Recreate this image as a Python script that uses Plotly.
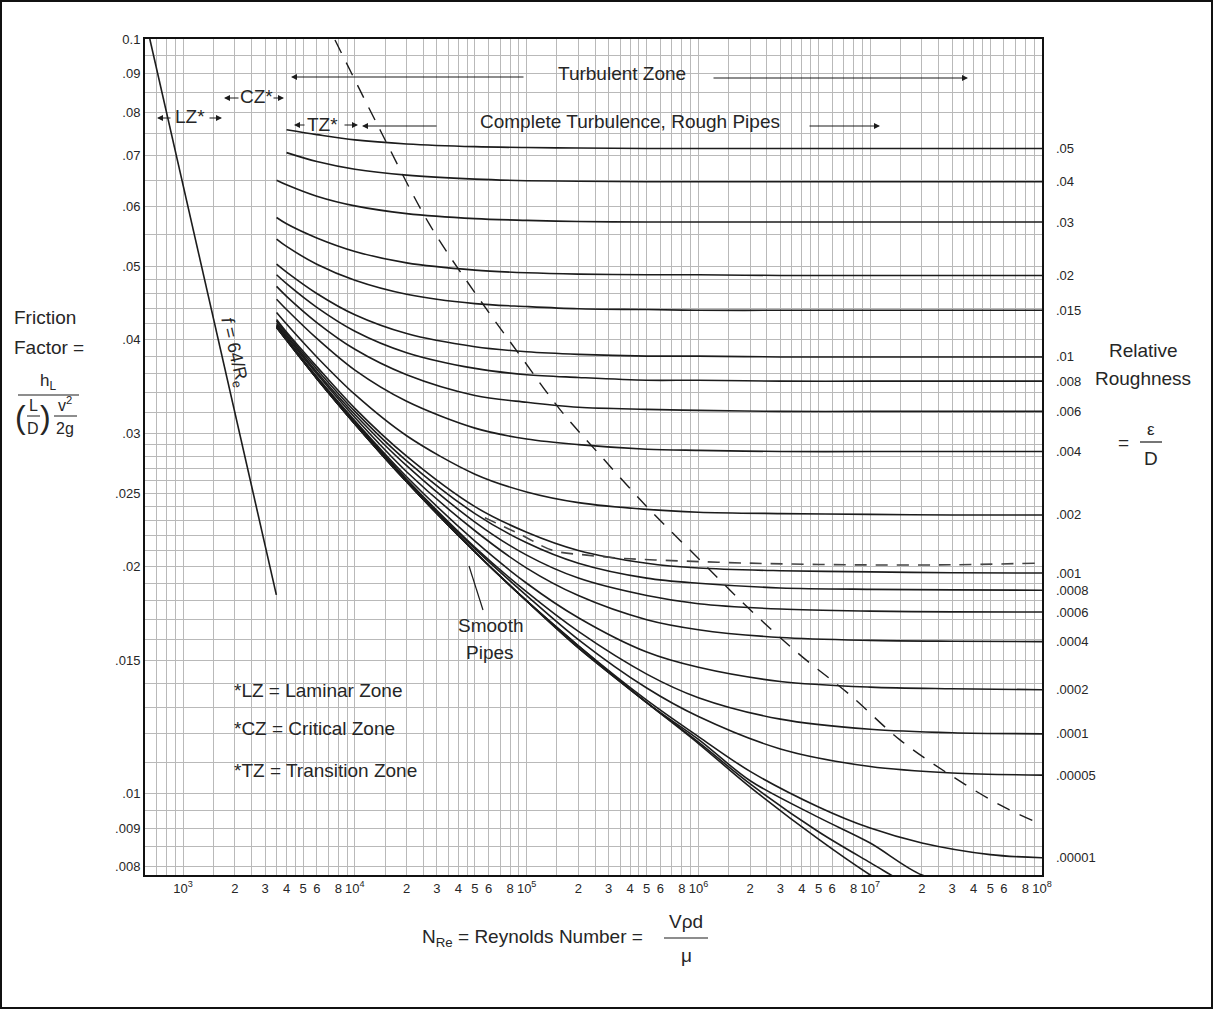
import math
import plotly.graph_objects as go

# ---------------- data ----------------
RE = [3500, 4000, 6000, 1e4, 2e4, 5e4, 1e5, 2e5, 5e5, 1e6, 3e6, 1e7, 3e7, 1e8]
RE_LOW = [3500, 4000, 6000, 1e4, 2e4, 5e4, 1e5, 2e5, 5e5, 1e6, 2e6, 5e6, 1e7, 2e7, 5e7, 1e8]

F_05 = [None, 0.0758, 0.0747, 0.0735, 0.0726, 0.0720, 0.0718, 0.0717, 0.0716, 0.0716, 0.0716, 0.0716, 0.0716, 0.0716]
F_04 = [None, 0.0707, 0.0688, 0.0672, 0.0660, 0.0652, 0.0649, 0.0648, 0.0647, 0.0647, 0.0647, 0.0647, 0.0647, 0.0647]
F_03 = [0.0650, 0.0641, 0.0619, 0.0601, 0.0587, 0.0578, 0.0575, 0.0573, 0.0572, 0.0572, 0.0572, 0.0572, 0.0572, 0.0572]
F_02 = [0.0580, 0.0569, 0.0545, 0.0523, 0.0505, 0.0494, 0.0490, 0.0488, 0.0487, 0.0487, 0.0486, 0.0486, 0.0486, 0.0486]
F_015 = [0.0543, 0.0531, 0.0503, 0.0479, 0.0459, 0.0446, 0.0442, 0.0439, 0.0438, 0.0437, 0.0437, 0.0437, 0.0437, 0.0437]
F_01 = [0.0503, 0.0491, 0.0460, 0.0431, 0.0407, 0.0391, 0.0385, 0.0382, 0.0380, 0.0380, 0.0379, 0.0379, 0.0379, 0.0379]
F_008 = [0.0487, 0.0474, 0.0441, 0.0410, 0.0384, 0.0366, 0.0359, 0.0356, 0.0353, 0.0353, 0.0352, 0.0352, 0.0352, 0.0352]
F_006 = [0.0470, 0.0456, 0.0421, 0.0388, 0.0359, 0.0337, 0.0330, 0.0325, 0.0323, 0.0322, 0.0321, 0.0321, 0.0321, 0.0321]
F_004 = [0.0452, 0.0438, 0.0401, 0.0364, 0.0331, 0.0305, 0.0295, 0.0290, 0.0286, 0.0285, 0.0284, 0.0284, 0.0284, 0.0284]
F_002 = [0.0434, 0.0419, 0.0379, 0.0338, 0.0298, 0.0265, 0.0251, 0.0243, 0.0238, 0.0236, 0.0235, 0.02344, 0.0234, 0.0234]
F_001 = [0.0425, 0.0409, 0.0368, 0.0324, 0.0280, 0.0240, 0.0222, 0.0210, 0.0202, 0.0199, 0.01974, 0.01967, 0.01962, 0.0196]
F_0008 = [0.0423, 0.0407, 0.0365, 0.0321, 0.0276, 0.0235, 0.0215, 0.0202, 0.0193, 0.0190, 0.01873, 0.01865, 0.01862, 0.0186]
F_0006 = [0.0420, 0.0405, 0.0362, 0.0318, 0.0272, 0.0229, 0.0207, 0.0193, 0.0183, 0.01785, 0.01756, 0.01745, 0.01741, 0.0174]
F_0004 = [0.0418, 0.0403, 0.0360, 0.0315, 0.0267, 0.0223, 0.0199, 0.0183, 0.0170, 0.01649, 0.0161, 0.01596, 0.01592, 0.0159]
F_0002 = [0.0417, 0.0401, 0.0357, 0.0312, 0.0263, 0.0216, 0.0190, 0.0171, 0.0154, 0.0147, 0.01408, 0.01384, 0.01377, 0.01373]
F_0001 = [0.0416, 0.0400, 0.0356, 0.0311, 0.0261, 0.0212, 0.0185, 0.0164, 0.0144, 0.0134, 0.01255, 0.01217, 0.01204, 0.0120]
F_00005 = [0.0416, 0.0400, 0.0355, 0.0310, 0.0260, 0.0211, 0.0183, 0.0160, 0.0138, 0.01265, 0.01146, 0.01086, 0.01065, 0.01058]
# lowest curves, on the denser RE_LOW grid
F_00001 = [0.0415, 0.0399, 0.0355, 0.0309, 0.0259, 0.0209, 0.0180, 0.0157, 0.0133, 0.0119, 0.0107, 0.0096, 0.0090, 0.0086, 0.0083, 0.00822]
F_000005 = [0.0415, 0.0399, 0.0355, 0.0309, 0.0259, 0.0209, 0.0180, 0.0157, 0.0132, 0.0118, 0.0104, 0.0093, 0.0086, 0.0078, 0.0074, 0.0072]
F_000001 = [0.0415, 0.0399, 0.0355, 0.0309, 0.0259, 0.0209, 0.0180, 0.0156, 0.0132, 0.0117, 0.0103, 0.0089, 0.0081, 0.0074, 0.0068, 0.0064]
F_SMOOTH = [0.0415, 0.0399, 0.0355, 0.0309, 0.0259, 0.0209, 0.0180, 0.0156, 0.0132, 0.01165, 0.0102, 0.0087, 0.0078, 0.0071, 0.0063, 0.0059]

ROUGH_LABELS = [".05", ".04", ".03", ".02", ".015", ".01", ".008", ".006", ".004", ".002",
                ".001", ".0008", ".0006", ".0004", ".0002", ".0001", ".00005", ".00001"]
ROUGH_SERIES = [F_05, F_04, F_03, F_02, F_015, F_01, F_008, F_006, F_004, F_002,
                F_001, F_0008, F_0006, F_0004, F_0002, F_0001, F_00005, F_00001]
LOW_SERIES = [F_000005, F_000001, F_SMOOTH]

# laminar line f = 64/Re
RE_LAM = [640, 3490]
F_LAM = [0.1, 0.01834]

# dashed boundary of complete turbulence
RE_BOUND = [7660, 1.40e4, 2.73e4, 5.35e4, 9.14e4, 1.56e5, 2.67e5, 5.21e5, 1.02e6, 2.0e6, 3.9e6, 7.6e6, 1.49e7, 2.91e7, 5.69e7, 9.1e7]
F_BOUND = [0.0997, 0.0758, 0.0567, 0.0451, 0.0381, 0.0323, 0.0281, 0.02377, 0.0204, 0.01752, 0.01527, 0.01352, 0.01178, 0.01059, 0.00966, 0.00918]

# dashed curve near .001
RE_DASH = [5.71e4, 9.38e4, 1.42e5, 2.24e5, 3.59e5, 5.58e5, 2.0e6, 7.6e6, 2.9e7, 9.1e7]
F_DASH = [0.0232, 0.0220, 0.0210, 0.0207, 0.0205, 0.0204, 0.0202, 0.0201, 0.0201, 0.0202]

# axis tick labels
X_LABEL_VALUES = [1e3, 2e3, 3e3, 4e3, 5e3, 6e3, 8e3,
                  1e4, 2e4, 3e4, 4e4, 5e4, 6e4, 8e4,
                  1e5, 2e5, 3e5, 4e5, 5e5, 6e5, 8e5,
                  1e6, 2e6, 3e6, 4e6, 5e6, 6e6, 8e6,
                  1e7, 2e7, 3e7, 4e7, 5e7, 6e7, 8e7, 1e8]
X_LABEL_TEXT = ["10<sup>3</sup>", "2", "3", "4", "5", "6", "8",
                "10<sup>4</sup>", "2", "3", "4", "5", "6", "8",
                "10<sup>5</sup>", "2", "3", "4", "5", "6", "8",
                "10<sup>6</sup>", "2", "3", "4", "5", "6", "8",
                "10<sup>7</sup>", "2", "3", "4", "5", "6", "8", "10<sup>8</sup>"]
Y_LABEL_VALUES = [0.1, 0.09, 0.08, 0.07, 0.06, 0.05, 0.04, 0.03, 0.025, 0.02, 0.015, 0.01, 0.009, 0.008]
Y_LABEL_TEXT = ["0.1", ".09", ".08", ".07", ".06", ".05", ".04", ".03", ".025", ".02", ".015", ".01", ".009", ".008"]

# ---------------- styling / layout helpers ----------------
W, H = 1214, 1010
L, R, T, B = 145, 1042, 39, 875
FONT = "Liberation Sans, Arial, sans-serif"
TS = 19          # annotation text size
TXT = "#262626"
LINE = "#1c1c1c"
GRID = "#b9b9b9"


def PX(px):
    return (px - L) / (R - L)


def PY(py):
    return (B - py) / (B - T)


# gridline positions
x_grid = [600, 700, 800, 900]
for d in [1e3, 1e4, 1e5, 1e6, 1e7]:
    for m in [1, 1.5, 2, 2.5, 3, 3.5, 4, 4.5, 5, 6, 7, 8, 9]:
        x_grid.append(m * d)
x_grid.append(1e8)
y_grid = [0.008, 0.0085, 0.009, 0.0095]
y_grid += [round(0.010 + 0.001 * i, 4) for i in range(21)]
y_grid += [round(0.032 + 0.002 * i, 4) for i in range(10)]
y_grid += [round(0.055 + 0.005 * i, 4) for i in range(10)]


def merge(grid, vals, texts):
    lab = {round(math.log10(v), 6): t for v, t in zip(vals, texts)}
    allv = sorted(set([round(math.log10(v), 6) for v in grid] + list(lab.keys())))
    return [10 ** v for v in allv], [lab.get(v, "") for v in allv]


xtv, xtt = merge(x_grid, X_LABEL_VALUES, X_LABEL_TEXT)
ytv, ytt = merge(y_grid, Y_LABEL_VALUES, Y_LABEL_TEXT)

fig = go.Figure()
curve_line = dict(color=LINE, width=1.6, shape="spline", smoothing=0.9)

for f in ROUGH_SERIES:
    xs = RE_LOW if len(f) == len(RE_LOW) else RE
    fig.add_trace(go.Scatter(x=xs, y=f, mode="lines", line=curve_line, connectgaps=False, hoverinfo="skip"))
for f in LOW_SERIES:
    fig.add_trace(go.Scatter(x=RE_LOW, y=f, mode="lines", line=curve_line, hoverinfo="skip"))
fig.add_trace(go.Scatter(x=RE_LAM, y=F_LAM, mode="lines", line=dict(color=LINE, width=1.6), hoverinfo="skip"))
fig.add_trace(go.Scatter(x=RE_BOUND, y=F_BOUND, mode="lines",
                         line=dict(color=LINE, width=1.4, dash="14px,11px", shape="spline"), hoverinfo="skip"))
fig.add_trace(go.Scatter(x=RE_DASH, y=F_DASH, mode="lines",
                         line=dict(color="#444444", width=1.6, dash="12px,9px", shape="spline"), hoverinfo="skip"))

ann = []


def txt(s, px, py, size=TS, xa="center", ya="middle", angle=0, color=TXT):
    ann.append(dict(text=s, x=PX(px), y=PY(py), xref="paper", yref="paper", showarrow=False,
                    xanchor=xa, yanchor=ya, textangle=angle,
                    font=dict(size=size, family=FONT, color=color)))


def arrow(hx, hy, tx, ty, head=2):
    ann.append(dict(text="", x=PX(hx), y=PY(hy), xref="paper", yref="paper", showarrow=True,
                    ax=tx - hx, ay=ty - hy, arrowhead=head, arrowsize=1.0, arrowwidth=1.2,
                    arrowcolor=LINE, standoff=0, startstandoff=0, font=dict(size=10)))


shapes = []


def seg(x0, y0, x1, y1, w=1.3):
    shapes.append(dict(type="line", xref="paper", yref="paper", x0=PX(x0), y0=PY(y0), x1=PX(x1), y1=PY(y1),
                       line=dict(color=LINE, width=w)))


# right-side roughness labels at curve ends
for lab, f in zip(ROUGH_LABELS, ROUGH_SERIES):
    ann.append(dict(text=lab, x=PX(1054), y=math.log10(f[-1]), xref="paper", yref="y", showarrow=False,
                    xanchor="left", yanchor="middle", font=dict(size=13, family=FONT, color=TXT)))

# zone annotations
txt("Turbulent Zone", 622, 73)
arrow(291, 77, 525, 77)
arrow(968, 78, 712, 78)
txt("Complete Turbulence, Rough Pipes", 630, 121)
arrow(362, 126, 438, 126)
arrow(880, 126, 808, 126)
txt("TZ*", 322, 124)
arrow(294, 125, 306, 125)
arrow(358, 125, 343, 125)
txt("CZ*", 256, 97)
arrow(224, 98, 240, 98)
arrow(284, 98, 272, 98)
txt("LZ*", 190, 117)
arrow(157, 118, 172, 118)
arrow(222, 118, 208, 118)

txt("<i>f</i> = 64/R<sub>e</sub>", 234, 352, size=18, angle=77)

txt("Smooth", 490, 625)
txt("Pipes", 490, 652)
seg(483, 610, 469, 566, 1.2)

txt("*LZ = Laminar Zone", 232, 690, xa="left")
txt("*CZ = Critical Zone", 232, 728, xa="left")
txt("*TZ = Transition Zone", 232, 770, xa="left")

# left axis title
txt("Friction", 12, 317, xa="left")
txt("Factor =", 12, 348, xa="left")
txt("h<sub>L</sub>", 48, 382, size=17)
seg(18, 395, 79, 395, 1.2)
txt("(", 21, 417, size=32)
txt(")", 45, 417, size=32)
txt("L", 33, 405, size=16)
seg(27, 416, 40, 416, 1.0)
txt("D", 33, 428, size=16)
txt("v<sup>2</sup>", 65, 404, size=16)
seg(54, 416, 77, 416, 1.0)
txt("2g", 65, 428, size=16)

# right title
txt("Relative", 1143, 351)
txt("Roughness", 1143, 378)
txt("=", 1123, 442)
txt("ε", 1151, 429, size=17)
seg(1140, 442, 1162, 442, 1.2)
txt("D", 1151, 458)

# bottom title
txt("N<sub>Re</sub> = Reynolds Number =", 420, 938, xa="left")
txt("Vρd", 686, 921)
seg(664, 938, 708, 938, 1.2)
txt("μ", 686, 955)

# outer border
shapes.append(dict(type="rect", xref="paper", yref="paper", x0=PX(1), y0=PY(1008), x1=PX(1212), y1=PY(1),
                   line=dict(color="#111111", width=2), fillcolor="rgba(0,0,0,0)", layer="below"))

fig.update_layout(
    width=W, height=H,
    margin=dict(l=L, r=W - R, t=T, b=H - B, pad=0),
    paper_bgcolor="white", plot_bgcolor="white",
    showlegend=False,
    annotations=ann, shapes=shapes,
    font=dict(family=FONT, color=TXT),
    xaxis=dict(type="log", range=[math.log10(600), 8.0], tickvals=xtv, ticktext=xtt, ticks="",
               showgrid=True, gridcolor=GRID, gridwidth=1, showline=True, linecolor="#111111", linewidth=2,
               mirror=True, zeroline=False, tickfont=dict(size=13, family=FONT, color=TXT), tickangle=0),
    yaxis=dict(type="log", range=[math.log10(0.0078), -1.0], tickvals=ytv, ticktext=ytt, ticks="",
               showgrid=True, gridcolor=GRID, gridwidth=1, showline=True, linecolor="#111111", linewidth=2,
               mirror=True, zeroline=False, tickfont=dict(size=13, family=FONT, color=TXT)),
)

fig.write_html("out.html", config={"displayModeBar": False},
               post_script="document.body.style.margin='0px';document.body.style.overflow='hidden';")
